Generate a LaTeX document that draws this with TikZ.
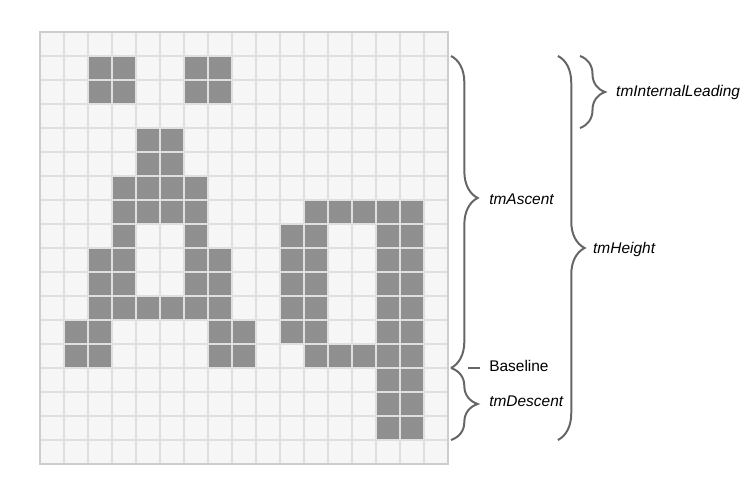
\documentclass[tikz,border=0pt]{standalone}
\usepackage{fontspec}
\setmainfont{Liberation Sans}
\usetikzlibrary{decorations.pathreplacing}
\definecolor{cellbg}{HTML}{F6F6F6}
\definecolor{gridline}{HTML}{DFDFDF}
\definecolor{gridframe}{HTML}{CDCDCD}
\definecolor{pixel}{HTML}{8F8F8F}
\definecolor{bracegray}{HTML}{666666}

\begin{document}
\begin{tikzpicture}[x=0.72cm, y=0.72cm,
  pix/.style={fill=pixel},
  brc/.style={decorate, draw=bracegray, line width=1.7pt},
  lbl/.style={anchor=base west, inner sep=0pt, font=\fontsize{13.2}{15}\selectfont\itshape},
  plain/.style={anchor=base west, inner sep=0pt, font=\fontsize{13.2}{15}\selectfont},
]
\useasboundingbox (-1.6667,-0.9583) rectangle (29.8333,19.3333);

% Cell background
\fill[cellbg] (0,0) rectangle (17,18);

% Letter A (row counted from top)
\foreach \r/\cols in {1/{2,3,6,7}, 2/{2,3,6,7}, 4/{4,5}, 5/{4,5},
                      6/{3,4,5,6}, 7/{3,4,5,6}, 8/{3,6}, 9/{2,3,6,7},
                      10/{2,3,6,7}, 11/{2,3,4,5,6,7}, 12/{1,2,7,8}, 13/{1,2,7,8}}
  \foreach \c in \cols \fill[pix] (\c,17-\r) rectangle ++(1,1);

% Letter q
\foreach \r/\cols in {7/{11,12,13,14,15}, 8/{10,11,14,15}, 9/{10,11,14,15},
                      10/{10,11,14,15}, 11/{10,11,14,15}, 12/{10,11,14,15},
                      13/{11,12,13,14,15}, 14/{14,15}, 15/{14,15}, 16/{14,15}}
  \foreach \c in \cols \fill[pix] (\c,17-\r) rectangle ++(1,1);

% Grid
\draw[gridline, line width=1.4pt, step=1] (0,0) grid (17,18);
\draw[gridframe, line width=1.4pt] (0,0) rectangle (17,18);

% Brace end points
\coordinate (asc top) at (17.125,17);
\coordinate (base) at (17.125,4);
\coordinate (desc bot) at (17.125,1);
\coordinate (hgt top) at (21.58,17);
\coordinate (hgt bot) at (21.58,1);
\coordinate (lead top) at (22.5,17);
\coordinate (lead bot) at (22.5,14);
\coordinate (bl tick) at (17.85,4);

% Braces
\draw[brc, decoration={brace, amplitude=0.8cm, aspect=0.455}] (asc top) -- (base);
\draw[brc, decoration={brace, amplitude=0.8cm}] (base) -- (desc bot);
\draw[brc, decoration={brace, amplitude=0.8cm}] (hgt top) -- (hgt bot);
\draw[brc, decoration={brace, amplitude=0.75cm}] (lead top) -- (lead bot);

% Labels
\node[lbl] (leading) at (24.0,15.31) {tmInternalLeading};
\node[lbl] (ascent) at (18.71,10.81) {tmAscent};
\node[plain] (baseline) at (18.71,3.85) {Baseline};
\node[lbl] (descent) at (18.71,2.40) {tmDescent};
\node[lbl] (height) at (23.04,8.77) {tmHeight};

\draw[bracegray, line width=1.4pt] (bl tick) -- ++(0.5,0);
\end{tikzpicture}
\end{document}
